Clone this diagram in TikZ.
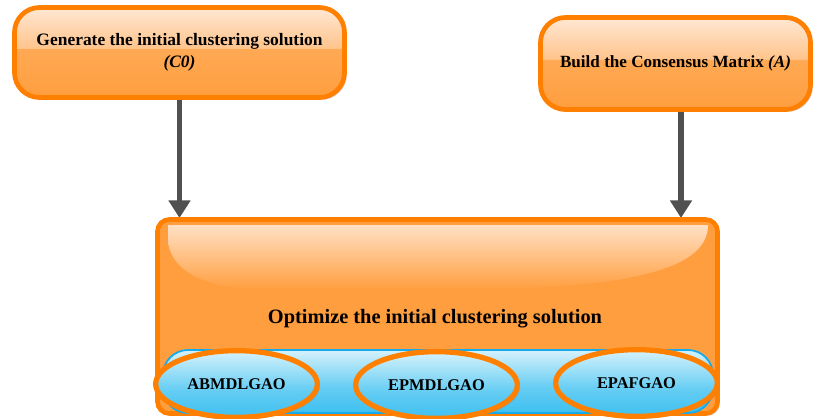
\documentclass[tikz,border=0pt]{standalone}
\usepackage{fontspec}
\setmainfont{Liberation Serif}
\usetikzlibrary{arrows.meta,shadows,shapes.geometric}
\definecolor{brdorange}{RGB}{255,128,0}
\definecolor{midorange}{RGB}{255,158,62}
\definecolor{lightorange}{RGB}{255,232,212}
\definecolor{glossorange}{RGB}{255,196,140}
\definecolor{skyblue}{RGB}{62,192,240}
\definecolor{paleblue}{RGB}{214,242,252}
\definecolor{barblue}{RGB}{20,170,235}
\definecolor{arrowgray}{RGB}{80,80,80}
\pgfdeclareverticalshading{orangegloss}{100bp}{color(0bp)=(midorange); color(25bp)=(midorange); color(52bp)=(midorange!85!lightorange); color(52.5bp)=(glossorange); color(75bp)=(lightorange); color(100bp)=(lightorange)}
\pgfdeclareverticalshading{bluegloss}{100bp}{color(0bp)=(skyblue); color(25bp)=(skyblue); color(45bp)=(skyblue!75!paleblue); color(75bp)=(paleblue); color(100bp)=(paleblue)}

\begin{document}
\begin{tikzpicture}[x=0.03cm, y=-0.03cm,
    every node/.style={font=\bfseries},
    stepbox/.style={draw=brdorange, line width=4pt, rounded corners=0.75cm, shading=orangegloss,
        drop shadow={opacity=0.3, shadow xshift=2pt, shadow yshift=-2pt}, align=center},
    algo/.style={ellipse, draw=brdorange, line width=4.5pt, shading=bluegloss, minimum width=4.85cm,
        minimum height=2cm, inner sep=0pt, font=\bfseries\fontsize{14}{16}\selectfont,
        drop shadow={opacity=0.3, shadow xshift=2pt, shadow yshift=-2pt}},
    flow/.style={arrowgray, line width=5pt, -{Triangle[width=18pt, length=15pt]}}]
\useasboundingbox (0,0) rectangle (815,418);

% steps
\node[stepbox, minimum width=9.9cm, minimum height=2.7cm, font=\bfseries\fontsize{14.9}{19}\selectfont]
    (gen) at (179.5,52.5) {Generate the initial clustering solution\\ \textit{(C0)}};
\node[stepbox, minimum width=8.1cm, minimum height=2.76cm, font=\bfseries\fontsize{14.6}{17}\selectfont]
    (build) at (675.5,63.5) {Build the Consensus Matrix \textit{(A)}};

% arrows
\draw[flow] (gen.south) -- (gen.south |- 0,218);
\draw[flow] ([xshift=0.165cm]build.south) -- ([xshift=0.165cm]build.south |- 0,218);

% optimization block
\node[draw=brdorange, line width=4pt, rounded corners=0.36cm, fill=midorange, minimum width=16.8cm,
    minimum height=5.82cm, drop shadow={opacity=0.3, shadow xshift=2pt, shadow yshift=-2pt}]
    (opt) at (437.5,316.5) {};
\shade[top color=lightorange, bottom color=midorange, opacity=0.9] (168,225) -- (708,225)
    .. controls (708,272) and (620,290) .. (440,290) -- (270,290)
    .. controls (195,290) and (168,265) .. (168,238) -- cycle;
\node[font=\bfseries\fontsize{17.4}{20}\selectfont] (optlabel) at (435,319) {Optimize the initial clustering solution};

\node[draw=barblue, line width=1.5pt, rounded corners=0.75cm, shading=bluegloss, minimum width=16.5cm,
    minimum height=1.89cm] (bar) at (438,381.5) {};

\node[algo] (abm) at (236.5,384) {ABMDLGAO};
\node[algo] (epm) at (436.5,385) {EPMDLGAO};
\node[algo] (epaf) at (636.5,383) {EPAFGAO};
\end{tikzpicture}
\end{document}
